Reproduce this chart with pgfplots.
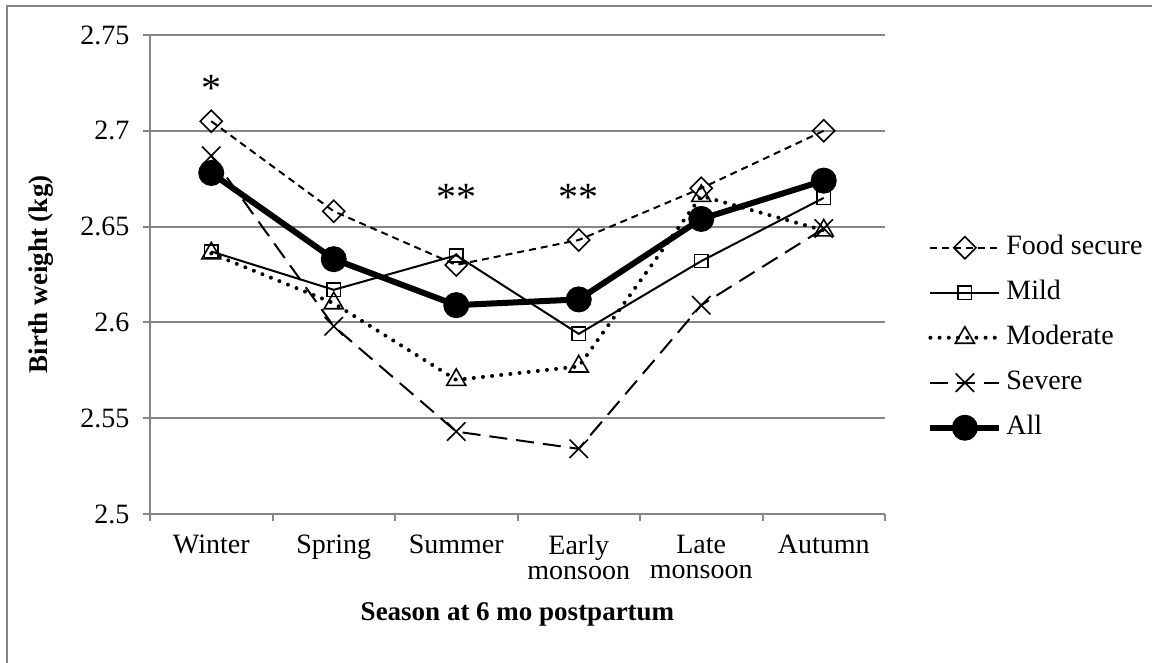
\documentclass[border=0pt]{standalone}
\usepackage{fontspec}
\setmainfont{Liberation Serif}
\usepackage{pgfplots}
\pgfplotsset{compat=1.18}
\definecolor{gridgray}{RGB}{134,134,134}
\begin{document}
\fontsize{14bp}{16.8bp}\selectfont
\begin{tikzpicture}
\begin{axis}[
  at={(75bp,74.5bp)}, anchor=south west,
  scale only axis, width=367.5bp, height=239.5bp,
  xmin=-0.5, xmax=5.5, ymin=2.5, ymax=2.75,
  axis x line*=bottom, axis y line*=left,
  axis line style={gridgray, line width=1bp, -},
  ytick={2.5,2.55,2.6,2.65,2.7,2.75},
  yticklabels={2.5,2.55,2.6,2.65,2.7,2.75},
  ymajorgrids, major grid style={gridgray, line width=1bp},
  tick align=outside, major tick length=3.5bp,
  tick style={gridgray, line width=1bp},
  xtick={-0.5,0.5,1.5,2.5,3.5,4.5,5.5},
  x tick label as interval,
  xticklabels={Winter,Spring,Summer,Early\\monsoon,Late\\monsoon,Autumn},
  xticklabel style={align=center, font=\fontsize{14bp}{12.5bp}\selectfont, yshift=-2bp},
  yticklabel style={font=\fontsize{14bp}{16bp}\selectfont, xshift=-2bp},
  xlabel={\textbf{Season at 6 mo postpartum}},
  ylabel={\textbf{Birth weight (kg)}},
  xlabel style={font=\fontsize{13.5bp}{16bp}\selectfont, yshift=-2bp},
  ylabel style={font=\fontsize{13.5bp}{16bp}\selectfont},
  ylabel shift=4bp,
  legend cell align=left,
  legend style={draw=none, fill=none, at={(1.049,0.368)}, anchor=west,
    font=\fontsize{14bp}{16bp}\selectfont,
    row sep=9.5bp, column sep=2bp,
    nodes={inner sep=0pt, text height=10bp, text depth=3bp}},
  legend image code/.code={\draw[mark repeat=2,mark phase=2,#1] plot coordinates {(0bp,0bp) (17.25bp,0bp) (34.5bp,0bp)};},
  clip=false,
]
\addplot[black, line width=1bp, dash pattern=on 3.5bp off 2.5bp,
  mark=square, mark size=3.9bp, mark options={solid, rotate=45, line width=0.8bp, fill=none}]
  coordinates {(0,2.705) (1,2.658) (2,2.630) (3,2.643) (4,2.670) (5,2.700)};
\addlegendentry{Food secure}
\addplot[black, line width=1bp,
  mark=square, mark size=3.3bp, mark options={solid, line width=0.8bp, fill=none}]
  coordinates {(0,2.637) (1,2.617) (2,2.635) (3,2.594) (4,2.632) (5,2.665)};
\addlegendentry{Mild}
\addplot[black, line width=2bp, line cap=round, dash pattern=on 0bp off 4.6bp,
  mark=triangle, mark size=5.5bp, mark options={solid, line width=0.8bp, fill=none, line cap=butt}]
  coordinates {(0,2.636) (1,2.610) (2,2.570) (3,2.577) (4,2.666) (5,2.648)};
\addlegendentry{Moderate}
\addplot[black, line width=1bp, dash pattern=on 9bp off 4.5bp,
  mark=x, mark size=6.5bp, mark options={solid, line width=0.8bp}]
  coordinates {(0,2.687) (1,2.598) (2,2.543) (3,2.534) (4,2.609) (5,2.649)};
\addlegendentry{Severe}
\addplot[black, line width=3bp,
  mark=*, mark size=6.25bp, mark options={solid, fill=black, line width=0.5bp}]
  coordinates {(0,2.678) (1,2.633) (2,2.609) (3,2.612) (4,2.654) (5,2.674)};
\addlegendentry{All}
\node[font=\fontsize{20bp}{22bp}\selectfont] at (axis cs:0,2.722) {*};
\node[font=\fontsize{20bp}{22bp}\selectfont] at (axis cs:2,2.665) {**};
\node[font=\fontsize{20bp}{22bp}\selectfont] at (axis cs:3,2.665) {**};
\end{axis}
\draw[gridgray, line width=1bp] (3.5bp,-10bp) -- (3.5bp,328.5bp) -- (600bp,328.5bp);
\pgfresetboundingbox
\useasboundingbox (0bp,0bp) rectangle (576bp,331.5bp);
\end{tikzpicture}
\end{document}
